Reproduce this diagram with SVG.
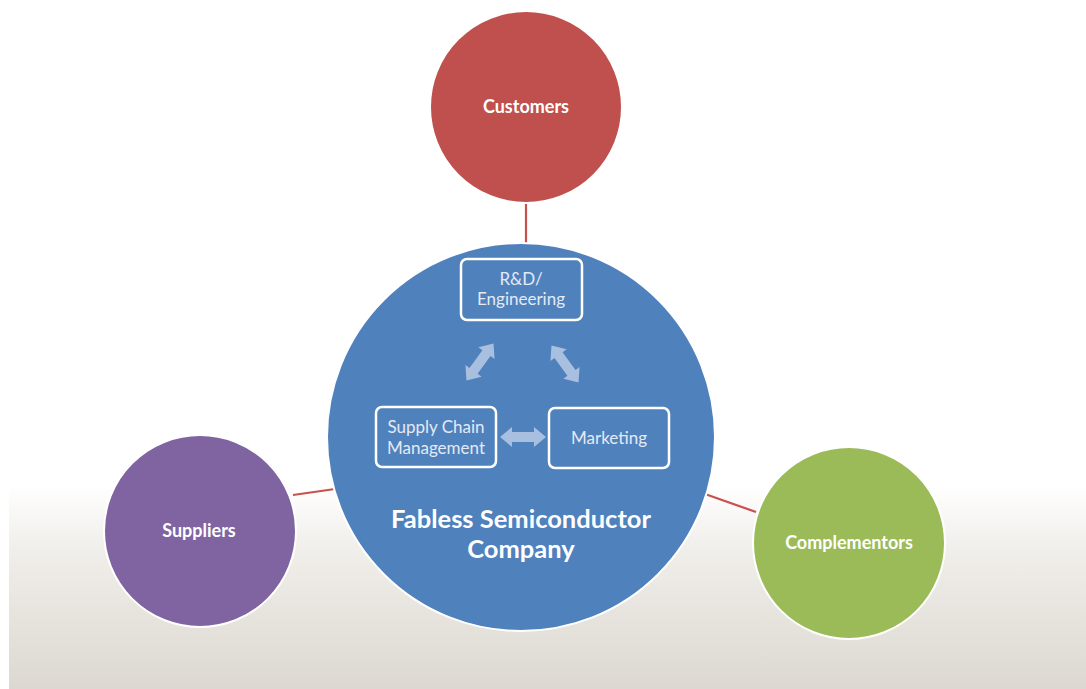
<svg xmlns="http://www.w3.org/2000/svg" width="1086" height="689" viewBox="0 0 1086 689">
  <defs>
    <linearGradient id="floor" x1="0" y1="0" x2="0" y2="1">
      <stop offset="0" stop-color="#ffffff"/>
      <stop offset="0.3" stop-color="#f1efeb"/>
      <stop offset="1" stop-color="#dcd8d1"/>
    </linearGradient>
    <polygon id="dbl" points="-23,0 -11,-10 -11,-5 11,-5 11,-10 23,0 11,10 11,5 -11,5 -11,10"/>
  </defs>
  <style>
    .ring { stroke: #ffffff; stroke-width: 2; }
    .link { stroke: #c9504d; stroke-width: 2.2; fill: none; }
    .box { fill: none; stroke: #ffffff; stroke-width: 2.5; }
    .arr { fill: #a9bfdf; }
    .lbl { font-family: "Lato", "Open Sans", "Liberation Sans", sans-serif; font-weight: bold; fill: #ffffff; text-anchor: middle; }
    .sub { font-family: "Lato", "Open Sans", "Liberation Sans", sans-serif; fill: #e3eaf4; text-anchor: middle; font-size: 17px; }
  </style>

  <!-- backdrop -->
  <rect x="0" y="0" width="1086" height="689" fill="#ffffff"/>
  <rect x="9" y="485" width="1077" height="204" fill="url(#floor)"/>

  <!-- connectors -->
  <g id="connectors">
    <line class="link" x1="526" y1="202" x2="526" y2="245"/>
    <line class="link" x1="293" y1="495" x2="335" y2="489"/>
    <line class="link" x1="705" y1="494" x2="756" y2="512"/>
  </g>

  <g id="customers">
    <circle class="ring" cx="526" cy="107" r="96" fill="#c0504d"/>
    <text class="lbl" x="526" y="113" font-size="18">Customers</text>
  </g>

  <g id="suppliers">
    <circle class="ring" cx="200" cy="531" r="96" fill="#8064a2"/>
    <text class="lbl" x="199" y="537" font-size="18">Suppliers</text>
  </g>

  <g id="complementors">
    <circle class="ring" cx="849" cy="543" r="96" fill="#9bbb59"/>
    <text class="lbl" x="849" y="549" font-size="18">Complementors</text>
  </g>

  <g id="company">
    <circle class="ring" cx="521" cy="437" r="194" fill="#4f81bd"/>
    <text class="lbl" x="521" y="528" font-size="25.5">Fabless Semiconductor</text>
    <text class="lbl" x="521" y="558" font-size="25.5">Company</text>
  </g>

  <g id="rnd">
    <rect class="box" x="461" y="259" width="121" height="61" rx="6"/>
    <text class="sub" x="521" y="285">R&amp;D/</text>
    <text class="sub" x="521" y="305">Engineering</text>
  </g>

  <g id="scm">
    <rect class="box" x="376" y="407" width="120" height="60" rx="6"/>
    <text class="sub" x="436" y="433">Supply Chain</text>
    <text class="sub" x="436" y="454">Management</text>
  </g>

  <g id="marketing">
    <rect class="box" x="549" y="408" width="120" height="60" rx="6"/>
    <text class="sub" x="609" y="444">Marketing</text>
  </g>

  <!-- two-way flows between functions -->
  <g id="flows">
    <use href="#dbl" class="arr" transform="translate(480,362) rotate(-54)"/>
    <use href="#dbl" class="arr" transform="translate(565,364) rotate(54)"/>
    <use href="#dbl" class="arr" transform="translate(523,437)"/>
  </g>
</svg>
